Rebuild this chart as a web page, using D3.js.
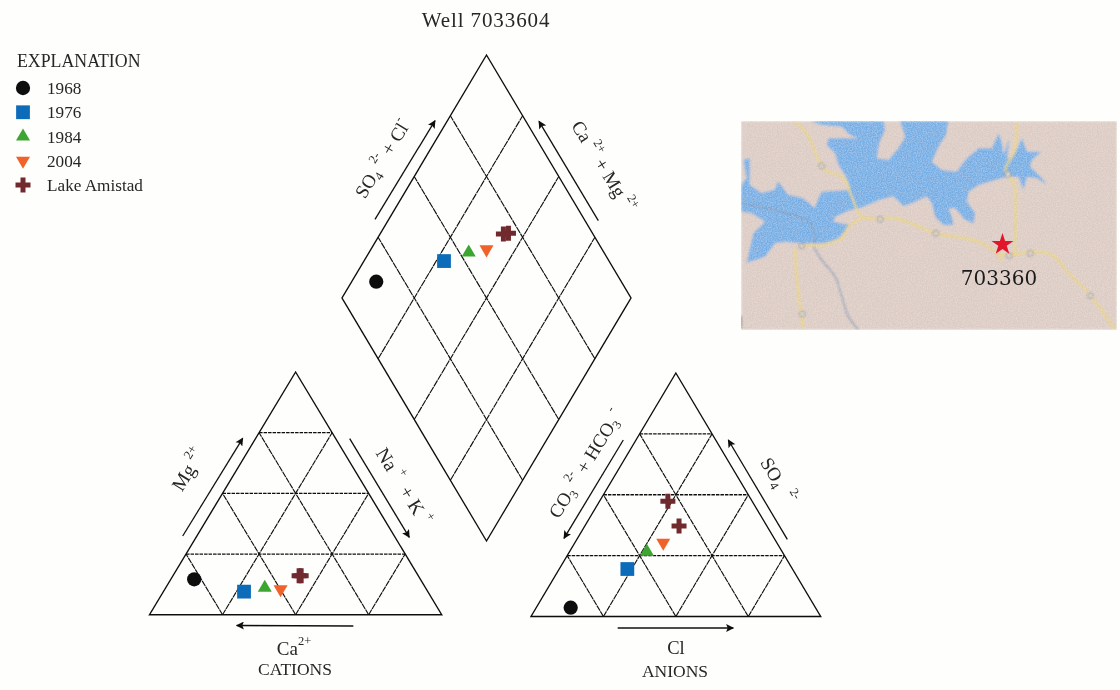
<!DOCTYPE html>
<html>
<head>
<meta charset="UTF-8">
<title>Well 7033604</title>
<script src="https://d3js.org/d3.v7.min.js"></script>
<style>
	html, body { margin: 0; background: #fefefc; }
	svg { display: block; }
	text { font-family: "Liberation Serif", serif; fill: #262626; }
</style>
</head>
<body>
<svg id="chart" width="1120" height="690"></svg>
<script>
// samples, lake amistad was plotted twice
var samples = ["1968", "1976", "1984", "2004", "Lake Amistad", "Lake Amistad"];
var legendRows = ["1968", "1976", "1984", "2004", "Lake Amistad"];

// percent of milliequivalents
var caPct = [77.4, 62.9, 55, 49.9, 40.8, 40.1];
var mgPct = [14.6, 9.5, 11.1, 10.5, 16, 16];
var clPct = [11.9, 23.5, 26.7, 30.5, 32.5, 23.6];
var so4Pct = [3.6, 19.5, 26.6, 30.3, 37.2, 47.3];
var so4ClPct = [15.2, 42.9, 53.2, 60, 69, 70.9];
var caMgPct = [91.5, 72.3, 65.5, 60, 57.3, 55.7];

var gridLevels = [25, 50, 75];

// map, in zoom crop units
var lakeOutline = [[225,33],[445,33],[450,60],[432,100],[425,145],[460,150],[490,115],[510,80],[495,33],[640,33],[632,75],[610,110],[590,155],[620,180],[665,185],[690,150],[730,115],[770,115],[790,70],[800,100],[805,135],[822,85],[815,150],[840,130],[860,85],[875,125],[918,125],[890,150],[885,170],[920,205],[935,225],[905,205],[875,200],[865,240],[850,200],[815,200],[780,210],[730,225],[700,245],[695,275],[720,310],[715,340],[690,330],[660,295],[640,295],[650,320],[655,345],[625,345],[600,320],[590,280],[575,259],[540,275],[505,289],[475,259],[435,269],[375,294],[345,300],[300,320],[295,335],[345,345],[310,385],[270,400],[200,400],[150,395],[120,400],[90,440],[35,458],[45,415],[55,370],[90,335],[50,310],[18,305],[18,225],[35,205],[25,150],[45,145],[44,224],[79,249],[119,239],[129,214],[159,254],[204,264],[239,294],[250,265],[260,245],[344,240],[345,229],[330,195],[310,165],[300,130],[275,105],[280,85],[370,85],[345,75],[320,50],[260,45]];
var roads = [
	[[175,33],[215,70],[250,150],[270,180],[325,205],[350,260],[380,320],[435,325],[480,325],[540,345],[600,370],[660,380],[730,395],[790,430],[830,435],[880,425],[950,435],[1000,490],[1060,550],[1140,660]],
	[[380,325],[340,350],[320,385],[260,405],[200,405]],
	[[845,33],[835,130],[810,180],[835,220],[838,430]],
	[[180,415],[185,500],[195,590],[205,655]],
	[[795,435],[795,455]]
];
var rivers = [
	[[18,280],[100,295],[190,320],[230,345],[240,400]],
	[[235,410],[260,450],[300,500],[320,560],[340,620],[370,660]]
];
var roadBadges = [[260,168],[818,192],[435,328],[602,370],[822,437],[200,408],[202,612],[1065,557],[885,430]];

var markerColor = { "1968": "#0f0f0f", "1976": "#0f6cba", "1984": "#3ea532", "2004": "#f0622a", "Lake Amistad": "#702a2f" };

var svg = d3.select("#chart");

var defs = svg.append("defs");
defs.append("marker").attr("id", "head")
	.attr("viewBox", "0 0 10 10").attr("refX", 9).attr("refY", 5)
	.attr("markerWidth", 9).attr("markerHeight", 8).attr("markerUnits", "userSpaceOnUse")
	.attr("orient", "auto")
	.append("path").attr("d", "M0,0L10,5L0,10L2,5Z").attr("fill", "#111");
defs.append("filter").attr("id", "soft").append("feGaussianBlur").attr("stdDeviation", 0.4);

// speckle on the map
var grain = defs.append("filter").attr("id", "grain").attr("x", 0).attr("y", 0).attr("width", 1).attr("height", 1);
grain.append("feGaussianBlur").attr("in", "SourceGraphic").attr("stdDeviation", 0.9).attr("result", "b");
grain.append("feTurbulence").attr("type", "fractalNoise").attr("baseFrequency", 0.8).attr("numOctaves", 2).attr("seed", 4).attr("result", "n");
grain.append("feColorMatrix").attr("in", "n").attr("type", "matrix")
	.attr("values", "0 0 0 0 1  0 0 0 0 1  0 0 0 0 1  0.5 0 0 0 -0.17").attr("result", "w");
grain.append("feComposite").attr("in", "w").attr("in2", "b").attr("operator", "over");

var page = svg.append("g").attr("filter", "url(#soft)");

// title
page.append("text").attr("x", 486).attr("y", 27).attr("text-anchor", "middle")
	.style("font-size", "21px").style("letter-spacing", "0.9px").text("Well 7033604");

function marker(sample) {
	var i = legendRows.indexOf(sample);
	var type = [d3.symbolCircle, d3.symbolSquare, d3.symbolTriangle, d3.symbolTriangle, d3.symbolCross][i];
	var size = [160, 190, 85, 85, 125][i];
	return d3.symbol().type(type).size(size)();
}
function spin(sample) {
	return sample === "2004" ? " rotate(180)" : "";
}

function drawMarkers(g, xs, ys) {
	g.selectAll("path.mark").data(samples).enter().append("path")
		.attr("class", "mark")
		.attr("d", function(d) { return marker(d); })
		.attr("fill", function(d) { return markerColor[d]; })
		.attr("transform", function(d, i) { return "translate(" + xs[i] + "," + ys[i] + ")" + spin(d); });
}

function gridLine(g, a, b, dash, w) {
	g.append("line").attr("x1", a[0]).attr("y1", a[1]).attr("x2", b[0]).attr("y2", b[1])
		.attr("stroke", "#111").attr("stroke-width", w).attr("stroke-dasharray", dash);
}

function drawTriangle(left, right, apexX, base, apexY) {
	var g = page.append("g");
	var x = d3.scaleLinear().domain([0, 100]).range([left, right]);
	var y = d3.scaleLinear().domain([0, 100]).range([base, apexY]);
	// a = share along the base, b = height share
	function pt(a, b) { return [x(a + b / 2), y(b)]; }

	gridLevels.forEach(function(l) {
		gridLine(g, pt(0, l), pt(100 - l, l), "3.5,1", 1.3);
		gridLine(g, pt(l, 0), pt(l, 100 - l), "6,0.7", 1.15);
		gridLine(g, pt(l, 0), pt(0, l), "6,0.7", 1.15);
	});
	g.append("path")
		.attr("d", d3.line()([pt(0, 0), pt(100, 0), pt(0, 100)]) + "Z")
		.attr("fill", "none").attr("stroke", "#111").attr("stroke-width", 1.4);
	return { g: g, pt: pt };
}

var cations = drawTriangle(149.5, 441.7, 296, 614.7, 372);
var anions = drawTriangle(531, 820.7, 676, 616.5, 373);

var cationPts = samples.map(function(d, i) { return cations.pt(100 - caPct[i] - mgPct[i], mgPct[i]); });
var anionPts = samples.map(function(d, i) { return anions.pt(clPct[i], so4Pct[i]); });
drawMarkers(cations.g, cationPts.map(function(p) { return p[0]; }), cationPts.map(function(p) { return p[1]; }));
drawMarkers(anions.g, anionPts.map(function(p) { return p[0]; }), anionPts.map(function(p) { return p[1]; }));

// diamond
var diamond = page.append("g");
var dx = d3.scaleLinear().domain([-100, 100]).range([342, 631]);
var dy = d3.scaleLinear().domain([0, 200]).range([541, 55]);
function dpt(u, v) { return [dx(u - v), dy(u + v)]; }
gridLevels.forEach(function(l) {
	gridLine(diamond, dpt(l, 0), dpt(l, 100), "7,0.7", 1.15);
	gridLine(diamond, dpt(0, l), dpt(100, l), "7,0.7", 1.15);
});
diamond.append("path")
	.attr("d", d3.line()([dpt(0, 0), dpt(100, 0), dpt(100, 100), dpt(0, 100)]) + "Z")
	.attr("fill", "none").attr("stroke", "#111").attr("stroke-width", 1.4);
drawMarkers(diamond,
	samples.map(function(d, i) { return dpt(so4ClPct[i], caMgPct[i])[0]; }),
	samples.map(function(d, i) { return dpt(so4ClPct[i], caMgPct[i])[1]; }));

// arrows
var arrows = [
	[182.7, 536, 242.7, 438.3], [349.7, 438.7, 409.3, 537.3], [353.3, 626, 236.7, 625.5],
	[623.3, 440, 564, 538.3], [787.3, 539.3, 728.3, 440], [617.7, 628, 733.3, 628],
	[375, 219.3, 435, 120.7], [598.3, 220.7, 539, 121.3]
];
page.selectAll("line.arrow").data(arrows).enter().append("line")
	.attr("class", "arrow")
	.attr("x1", function(d) { return d[0]; }).attr("y1", function(d) { return d[1]; })
	.attr("x2", function(d) { return d[2]; }).attr("y2", function(d) { return d[3]; })
	.attr("stroke", "#111").attr("stroke-width", 1.3).attr("marker-end", "url(#head)");

// axis labels, s = super, b = sub
function chem(cx, cy, angle, parts, size) {
	var t = page.append("text").attr("text-anchor", "middle")
		.attr("transform", "translate(" + cx + "," + cy + ") rotate(" + angle + ")")
		.attr("xml:space", "preserve")
		.style("font-size", size + "px");
	var shift = 0;
	parts.forEach(function(p) {
		var off = p[1] === "s" ? -10 : p[1] === "b" ? 4 : 0;
		t.append("tspan").attr("dy", off - shift)
			.style("font-size", (p[1] ? size * 0.66 : size) + "px")
			.text(p[0]);
		shift = off;
	});
}
chem(194, 473, -58.5, [["Mg "], ["2+", "s"]], 19.5);
chem(398, 490, 58.5, [["Na "], ["+", "s"], ["  + K "], ["+", "s"]], 19.5);
chem(294, 655, 0, [["Ca"], ["2+", "s"]], 19);
chem(295, 675, 0, [["CATIONS"]], 17.5);
chem(591, 467, -58.5, [["CO"], ["3", "b"], [" "], ["2-", "s"], [" + HCO"], ["3", "b"], [" "], ["-", "s"]], 19);
chem(773, 484, 58.5, [["SO"], ["4", "b"], ["  "], ["2-", "s"]], 19);
chem(676, 654, 0, [["Cl"]], 18.5);
chem(675, 677, 0, [["ANIONS"]], 17.5);
chem(388, 162, -58.5, [["SO"], ["4", "b"], [" "], ["2-", "s"], [" + Cl"], ["-", "s"]], 19);
chem(598, 170, 58.5, [["Ca "], ["2+", "s"], [" + Mg "], ["2+", "s"]], 19);

// legend
page.append("text").attr("x", 17).attr("y", 67).style("font-size", "17.8px").text("EXPLANATION");
var legendY = d3.scalePoint().domain(legendRows).range([88, 185]);
var rowsG = page.selectAll("g.row").data(legendRows).enter().append("g").attr("class", "row")
	.attr("transform", function(d) { return "translate(0," + legendY(d) + ")"; });
rowsG.append("path")
	.attr("d", function(d) { return marker(d); })
	.attr("fill", function(d) { return markerColor[d]; })
	.attr("transform", function(d) { return "translate(23,0)" + spin(d); });
rowsG.append("text").attr("x", 47).attr("y", 6).style("font-size", "17.2px").text(function(d) { return d; });

// location map
var mx = d3.scaleLinear().domain([18, 1145]).range([741, 1117]);
var my = d3.scaleLinear().domain([33, 660]).range([121, 330]);
var mline = d3.line().x(function(d) { return mx(d[0]); }).y(function(d) { return my(d[1]); }).curve(d3.curveCatmullRom.alpha(0.5));
var map = svg.append("g").attr("filter", "url(#grain)");
map.append("rect").attr("x", mx(18)).attr("y", my(33)).attr("width", mx(1145) - mx(18)).attr("height", my(660) - my(33)).attr("fill", "#dccbc3");
map.append("path").attr("d", d3.line().x(function(d) { return mx(d[0]); }).y(function(d) { return my(d[1]); })(lakeOutline) + "Z").attr("fill", "#73ade4");
map.selectAll("path.river").data(rivers).enter().append("path").attr("class", "river")
	.attr("d", mline).attr("fill", "none").attr("stroke", "#7b93b5").attr("stroke-width", 1.3);
map.selectAll("path.road").data(roads).enter().append("path").attr("class", "road")
	.attr("d", mline).attr("fill", "none").attr("stroke", "#ead268").attr("stroke-width", 2);
map.selectAll("circle.badge").data(roadBadges).enter().append("circle").attr("class", "badge")
	.attr("cx", function(d) { return mx(d[0]); }).attr("cy", function(d) { return my(d[1]); }).attr("r", 2.8)
	.attr("fill", "#ded8d0").attr("stroke", "#6f6b67").attr("stroke-width", 0.8);
map.append("line").attr("x1", mx(18)).attr("x2", mx(18)).attr("y1", my(618)).attr("y2", my(655)).attr("stroke", "#333").attr("stroke-width", 1.2);

svg.append("text").attr("x", 999).attr("y", 285).attr("text-anchor", "middle")
	.style("font-family", "'DejaVu Serif', serif").style("font-size", "20px").style("fill", "#1a1a1a").text("703360");
svg.append("path").attr("d", d3.symbol().type(d3.symbolStar).size(150)())
	.attr("transform", "translate(1002.5,244.5)").attr("fill", "#e2162b");
</script>
</body>
</html>
